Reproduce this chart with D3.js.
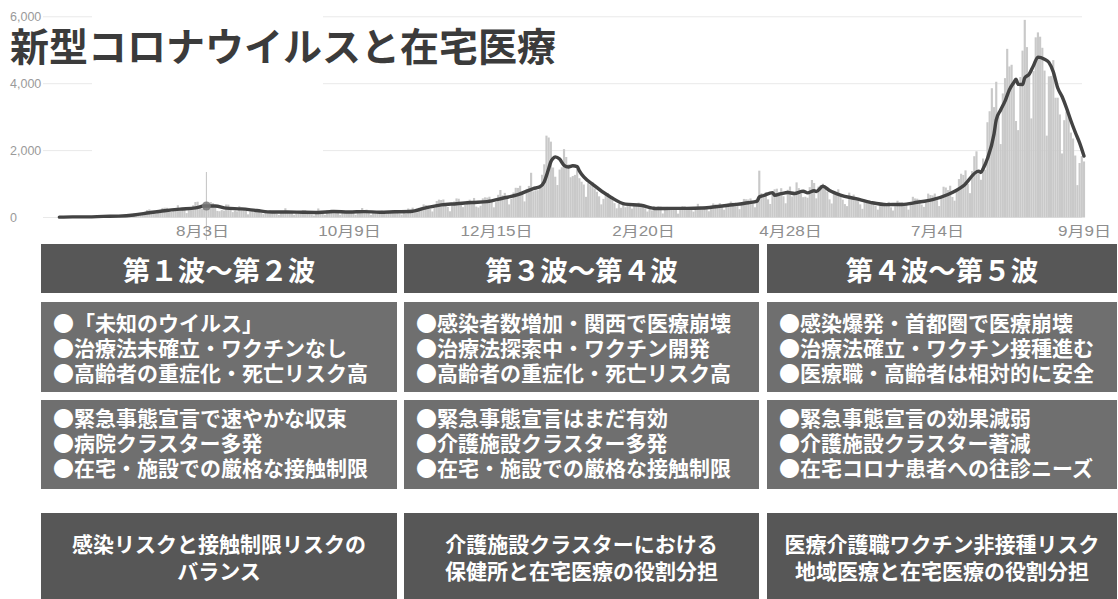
<!DOCTYPE html>
<html>
<head>
<meta charset="utf-8">
<script src="https://cdn.jsdelivr.net/npm/d3@7"></script>
<style>
  html, body { margin: 0; padding: 0; background: #fff; }
  svg { display: block; }
</style>
</head>
<body>
<svg id="chart" width="1118" height="599"></svg>
<script>
// Daily new cases, one value per day starting on seriesStart (rows are Sat..Fri weeks)
const seriesStart = "2020-05-30";
const dailyCases = [
  14, 5, 13, 34, 12, 28, 20,
  26, 14, 13, 12, 18, 22, 25,
  24, 47, 48, 27, 16, 41, 35,
  39, 35, 29, 31, 55, 48, 54,
  57, 60, 58, 54, 67, 107, 124,
  131, 111, 102, 106, 75, 224, 243,
  206, 206, 119, 143, 165, 286, 293,
  290, 188, 168, 237, 238, 366, 260,
  295, 239, 131, 266, 250, 367, 463,
  472, 292, 258, 309, 263, 360, 462,
  429, 331, 197, 188, 222, 206, 389,
  385, 260, 161, 207, 186, 339, 258,
  256, 212, 95, 182, 236, 250, 226,
  247, 148, 100, 170, 141, 211, 136,
  181, 116, 77, 170, 149, 276, 187,
  146, 146, 80, 163, 163, 171, 220,
  218, 132, 98, 88, 59, 195, 270,
  199, 148, 78, 212, 194, 235, 196,
  207, 143, 78, 172, 177, 186, 187,
  194, 146, 80, 166, 177, 284, 184,
  235, 132, 78, 139, 150, 185, 186,
  203, 124, 102, 158, 171, 221, 215,
  215, 116, 87, 209, 122, 269, 242,
  294, 189, 157, 293, 317, 393, 374,
  352, 255, 180, 298, 493, 534, 522,
  539, 391, 314, 186, 401, 481, 570,
  561, 418, 311, 372, 500, 533, 449,
  584, 327, 299, 352, 572, 602, 595,
  621, 480, 305, 460, 678, 822, 664,
  736, 556, 392, 563, 748, 888, 884,
  949, 708, 481, 856, 944, 1337, 783,
  814, 816, 884, 1278, 1591, 2447, 2392,
  2268, 1494, 1219, 970, 1433, 1502, 2044,
  1809, 1592, 1204, 1240, 1274, 1471, 1175,
  1070, 986, 618, 1026, 973, 1064, 868,
  769, 633, 393, 556, 676, 734, 577,
  639, 429, 276, 412, 291, 434, 307,
  369, 371, 266, 378, 378, 445, 353,
  327, 272, 178, 275, 213, 340, 270,
  337, 329, 121, 232, 316, 279, 301,
  293, 237, 116, 290, 340, 335, 304,
  239, 239, 175, 300, 409, 323, 303,
  342, 256, 187, 337, 420, 394, 376,
  430, 313, 234, 364, 414, 475, 440,
  446, 355, 249, 399, 555, 545, 537,
  570, 421, 306, 510, 1400, 729, 667,
  759, 543, 405, 711, 843, 861, 759,
  876, 635, 425, 828, 925, 629, 698,
  1050, 879, 708, 609, 621, 591, 907,
  1121, 1032, 573, 925, 969, 1010, 854,
  772, 542, 419, 732, 766, 843, 614,
  535, 401, 340, 743, 618, 684, 614,
  539, 393, 260, 471, 487, 508, 472,
  436, 351, 235, 369, 440, 439, 435,
  467, 304, 209, 337, 501, 452, 453,
  388, 376, 236, 435, 619, 570, 562,
  534, 386, 317, 476, 714, 673, 660,
  716, 518, 342, 593, 920, 896, 822,
  950, 614, 502, 830, 1149, 1308, 1271,
  1410, 1008, 727, 1387, 1832, 1979, 1359,
  1128, 1763, 1429, 2848, 3177, 3865, 3300,
  4058, 3058, 2195, 3709, 4166, 5042, 4515,
  4566, 4066, 2884, 2612, 4200, 4989, 5908,
  5094, 4295, 2962, 4377, 5386, 5534, 5405,
  5074, 4392, 2447, 4220, 4228, 4704, 3581,
  3581, 3081, 1915, 2909, 3168, 3099, 2539,
  2362, 1853, 968, 1629, 1834, 1675
];

// 7-day average curve: dates and values
const avgDates = [
  "2020-05-30", "2020-06-05", "2020-06-12", "2020-06-19", "2020-06-26", "2020-07-03",
  "2020-07-10", "2020-07-17", "2020-07-24", "2020-07-31", "2020-08-04", "2020-08-07",
  "2020-08-09", "2020-08-14", "2020-08-21", "2020-08-28", "2020-09-04", "2020-09-11",
  "2020-09-18", "2020-09-25", "2020-10-02", "2020-10-09", "2020-10-16", "2020-10-23",
  "2020-10-30", "2020-11-06", "2020-11-13", "2020-11-20", "2020-11-27", "2020-12-04",
  "2020-12-11", "2020-12-18", "2020-12-25", "2021-01-01", "2021-01-04", "2021-01-06",
  "2021-01-08", "2021-01-09", "2021-01-10", "2021-01-11", "2021-01-13", "2021-01-15",
  "2021-01-17", "2021-01-19", "2021-01-21", "2021-01-22", "2021-01-29", "2021-02-05",
  "2021-02-12", "2021-02-19", "2021-02-26", "2021-03-05", "2021-03-12", "2021-03-19",
  "2021-03-26", "2021-04-02", "2021-04-09", "2021-04-13", "2021-04-14", "2021-04-16",
  "2021-04-20", "2021-04-21", "2021-04-24", "2021-04-27", "2021-04-30", "2021-05-04",
  "2021-05-06", "2021-05-09", "2021-05-10", "2021-05-13", "2021-05-16", "2021-05-21",
  "2021-05-28", "2021-06-04", "2021-06-11", "2021-06-18", "2021-06-25", "2021-07-02",
  "2021-07-09", "2021-07-16", "2021-07-23", "2021-07-24", "2021-07-25", "2021-07-27",
  "2021-07-30", "2021-07-31", "2021-08-02", "2021-08-04", "2021-08-06", "2021-08-08",
  "2021-08-09", "2021-08-10", "2021-08-12", "2021-08-13", "2021-08-15", "2021-08-17",
  "2021-08-19", "2021-08-22", "2021-08-24", "2021-08-26", "2021-08-28", "2021-08-30",
  "2021-09-01", "2021-09-03", "2021-09-05", "2021-09-07", "2021-09-09"
];
const avgValues = [
  10, 18, 19, 34, 42, 75,
  142, 203, 250, 287, 344, 345,
  345, 280, 257, 208, 165, 165,
  156, 151, 180, 164, 176, 158,
  171, 180, 288, 376, 412, 449,
  476, 576, 681, 865, 919, 1072,
  1460, 1668, 1765, 1813, 1746, 1561,
  1510, 1546, 1519, 1395, 944, 620,
  398, 366, 268, 274, 274, 284,
  330, 381, 441, 492, 613, 658,
  745, 665, 714, 747, 717, 785,
  737, 798, 779, 934, 806, 670,
  562, 447, 386, 389, 455, 537,
  687, 946, 1386, 1346, 1454, 1763,
  2501, 2920, 3214, 3479, 3820, 4037,
  4135, 3979, 3976, 4175, 4283, 4546,
  4794, 4733, 4637, 4353, 3879, 3616,
  3277, 2899, 2549, 2231, 1837
];

const tickDates = ["2020-08-03", "2020-10-09", "2020-12-15", "2021-02-20", "2021-04-28", "2021-07-04", "2021-09-09"];
const tickLabels = ["8月3日", "10月9日", "12月15日", "2月20日", "4月28日", "7月4日", "9月9日"];
const yTickValues = [0, 2000, 4000, 6000];
const yTickLabels = ["0", "2,000", "4,000", "6,000"];
const focusDate = "2020-08-05";

const titleText = "新型コロナウイルスと在宅医療";
const waveHeaders = ["第１波～第２波", "第３波～第４波", "第４波～第５波"];
const situationLines = [
  ["●「未知のウイルス」", "●治療法未確立・ワクチンなし", "●高齢者の重症化・死亡リスク高"],
  ["●感染者数増加・関西で医療崩壊", "●治療法探索中・ワクチン開発", "●高齢者の重症化・死亡リスク高"],
  ["●感染爆発・首都圏で医療崩壊", "●治療法確立・ワクチン接種進む", "●医療職・高齢者は相対的に安全"]
];
const responseLines = [
  ["●緊急事態宣言で速やかな収束", "●病院クラスター多発", "●在宅・施設での厳格な接触制限"],
  ["●緊急事態宣言はまだ有効", "●介護施設クラスター多発", "●在宅・施設での厳格な接触制限"],
  ["●緊急事態宣言の効果減弱", "●介護施設クラスター著減", "●在宅コロナ患者への往診ニーズ"]
];
const themeLines = [
  ["感染リスクと接触制限リスクの", "バランス"],
  ["介護施設クラスターにおける", "保健所と在宅医療の役割分担"],
  ["医療介護職ワクチン非接種リスク", "地域医療と在宅医療の役割分担"]
];

const parse = d3.utcParse("%Y-%m-%d");
const svg = d3.select("#chart");
const jpFont = "'Noto Sans CJK JP', 'Noto Sans', sans-serif";
const numFont = "'Liberation Sans', Arial, 'Noto Sans CJK JP', sans-serif";

// ---------- chart ----------
const x = d3.scaleUtc()
  .domain([parse(tickDates[0]), parse(tickDates[tickDates.length - 1])])
  .range([202, 1084]);
const y = d3.scaleLinear().domain([0, 6000]).range([217.5, 16.8]);

const start = parse(seriesStart);
const bars = dailyCases.map((v, i) => ({ date: d3.utcDay.offset(start, i), v }));
const avg = avgDates.map((d, i) => ({ date: parse(d), v: avgValues[i] }));

// horizontal grid
svg.append("g").selectAll("line")
  .data(yTickValues)
  .join("line")
  .attr("x1", 43).attr("x2", 1082)
  .attr("y1", d => y(d)).attr("y2", d => y(d))
  .attr("stroke", "#e9e9e9").attr("stroke-width", 1);

// white backing behind the headline
svg.append("rect")
  .attr("x", 92).attr("y", 8).attr("width", 231).attr("height", 152)
  .attr("fill", "#fff");

// y labels
svg.append("g").selectAll("text")
  .data(yTickValues)
  .join("text")
  .attr("x", 10).attr("y", d => y(d))
  .attr("dy", "0.35em")
  .attr("font-family", numFont).attr("font-size", 12.5)
  .attr("fill", "#9a9a9a")
  .text((d, i) => yTickLabels[i]);

// daily bars
const step = x(d3.utcDay.offset(start, 1)) - x(start);
const bw = step * 0.98;
svg.append("g").selectAll("rect")
  .data(bars)
  .join("rect")
  .attr("x", d => x(d.date) - bw / 2)
  .attr("width", bw)
  .attr("y", d => y(d.v))
  .attr("height", d => y(0) - y(d.v))
  .attr("fill", "#c9c9c9");

// focus marker line
const fx = x(parse(focusDate));
svg.append("line")
  .attr("x1", fx).attr("x2", fx).attr("y1", 172).attr("y2", 240)
  .attr("stroke", "#c2c2c2").attr("stroke-width", 1);

// 7-day average line
svg.append("path")
  .datum(avg)
  .attr("fill", "none")
  .attr("stroke", "#434343")
  .attr("stroke-width", 3.4)
  .attr("stroke-linejoin", "round")
  .attr("stroke-linecap", "round")
  .attr("d", d3.line().x(d => x(d.date)).y(d => y(d.v)).curve(d3.curveMonotoneX));

// focus point on the average line
const focusVal = avgValues[avgDates.indexOf("2020-08-04")];
svg.append("circle")
  .attr("cx", fx).attr("cy", y(focusVal)).attr("r", 4.5)
  .attr("fill", "#777").attr("opacity", 0.85);

// x axis labels
const xAxis = d3.axisBottom(x)
  .tickValues(tickDates.map(parse))
  .tickFormat((d, i) => tickLabels[i])
  .tickSize(0);
const gx = svg.append("g").attr("transform", "translate(0,217.5)").call(xAxis);
gx.select(".domain").remove();
gx.selectAll("text")
  .attr("y", 13.5).attr("dy", "0.35em")
  .attr("transform", "scale(1.22,1)")
  .attr("font-family", numFont).attr("font-size", 14)
  .attr("fill", "#8e8e8e");

// headline
svg.append("text")
  .attr("x", 10).attr("y", 44)
  .attr("dominant-baseline", "central")
  .attr("font-family", jpFont).attr("font-weight", 700).attr("font-size", 39)
  .attr("fill", "#3b3b3b")
  .text(titleText);

// ---------- panels ----------
const cols = [
  { x0: 41, x1: 397 },
  { x0: 404, x1: 759 },
  { x0: 767, x1: 1117 }
];

// multi-line text block: one <text> with a <tspan> per line
function textBlock(g, lines, tx, ty0, lh, anchor) {
  const t = g.append("text")
    .attr("text-anchor", anchor)
    .attr("dominant-baseline", "central")
    .attr("font-family", jpFont).attr("font-weight", 700).attr("font-size", 21)
    .attr("fill", "#fff");
  t.selectAll("tspan")
    .data(lines)
    .join("tspan")
    .attr("x", tx)
    .attr("y", (d, j) => ty0 + j * lh)
    .text(d => d);
}

const panel = svg.append("g");
cols.forEach((c, i) => {
  const w = c.x1 - c.x0, cx = (c.x0 + c.x1) / 2;
  const col = panel.append("g");

  col.append("rect").attr("x", c.x0).attr("y", 244).attr("width", w).attr("height", 49).attr("fill", "#575757");
  col.append("text")
    .attr("x", cx).attr("y", 268.5)
    .attr("text-anchor", "middle").attr("dominant-baseline", "central")
    .attr("font-family", jpFont).attr("font-weight", 700).attr("font-size", 27.5)
    .attr("fill", "#fff")
    .text(waveHeaders[i]);

  col.append("rect").attr("x", c.x0).attr("y", 302).attr("width", w).attr("height", 90).attr("fill", "#6f6f6f");
  textBlock(col, situationLines[i], c.x0 + 12, 322, 25, "start");

  col.append("rect").attr("x", c.x0).attr("y", 400).attr("width", w).attr("height", 89).attr("fill", "#6f6f6f");
  textBlock(col, responseLines[i], c.x0 + 12, 417, 25, "start");

  col.append("rect").attr("x", c.x0).attr("y", 513).attr("width", w).attr("height", 86).attr("fill", "#575757");
  textBlock(col, themeLines[i], cx, 543, 27, "middle");
});
</script>
</body>
</html>
